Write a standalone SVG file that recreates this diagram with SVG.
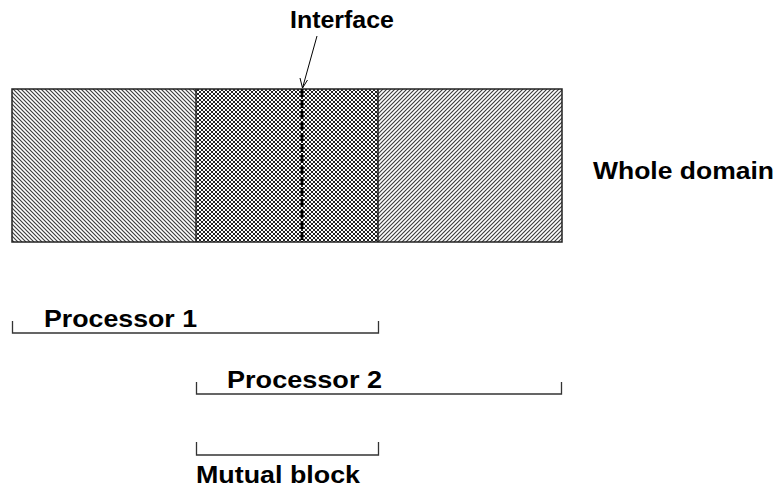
<svg xmlns="http://www.w3.org/2000/svg" width="779" height="491" viewBox="0 0 779 491">
<style>
  .lbl { font-family: "Liberation Sans", Arial, sans-serif; font-weight: bold; font-size: 24.5px; fill: #000; }
  .frame { fill: none; stroke: #222; stroke-width: 1.5; }
  .brk { fill: none; stroke: #333; stroke-width: 1.3; }
</style>
<defs>
  <pattern id="back" patternUnits="userSpaceOnUse" width="4" height="4">
    <rect width="4" height="4" fill="#fff"/>
    <path d="M-1,-1 L5,5 M-1,3 L1,5 M3,-1 L5,1" stroke="#3c3c3c" stroke-width="1.15"/>
  </pattern>
  <pattern id="fwd" patternUnits="userSpaceOnUse" width="4" height="4">
    <rect width="4" height="4" fill="#fff"/>
    <path d="M-1,5 L5,-1 M-1,1 L1,-1 M3,5 L5,3" stroke="#3c3c3c" stroke-width="1.15"/>
  </pattern>
  <pattern id="cross" patternUnits="userSpaceOnUse" width="4" height="4">
    <rect width="4" height="4" fill="#fff"/>
    <path d="M-1,-1 L5,5 M-1,3 L1,5 M3,-1 L5,1 M-1,5 L5,-1 M-1,1 L1,-1 M3,5 L5,3" stroke="#222" stroke-width="1"/>
  </pattern>
</defs>

<g id="domain">
  <rect x="12" y="89" width="184" height="153" fill="url(#back)"/>
  <rect x="196" y="89" width="182" height="153" fill="url(#cross)"/>
  <rect x="378" y="89" width="184" height="153" fill="url(#fwd)"/>
  <rect class="frame" x="12" y="89" width="550" height="153"/>
  <line class="frame" x1="196" y1="89" x2="196" y2="242"/>
  <line class="frame" x1="378" y1="89" x2="378" y2="242"/>
  <text class="lbl" x="593" y="179" textLength="181" lengthAdjust="spacingAndGlyphs">Whole domain</text>
</g>

<g id="interface">
  <line x1="302" y1="89" x2="302" y2="242" stroke="#000" stroke-width="2.8" stroke-dasharray="8,3"/>
  <text class="lbl" x="290" y="28" textLength="104" lengthAdjust="spacingAndGlyphs">Interface</text>
</g>

<g id="processor1">
  <path class="brk" d="M12.5,321 V333 H378.5 V321"/>
  <text class="lbl" x="44" y="327" textLength="153" lengthAdjust="spacingAndGlyphs">Processor 1</text>
</g>

<g id="processor2">
  <path class="brk" d="M196.5,382 V394 H561.5 V382"/>
  <text class="lbl" x="227" y="388" textLength="155" lengthAdjust="spacingAndGlyphs">Processor 2</text>
</g>

<g id="mutual">
  <path class="brk" d="M196.5,442 V455 H378.5 V442"/>
  <text class="lbl" x="196" y="483" textLength="164" lengthAdjust="spacingAndGlyphs">Mutual block</text>
</g>

<g id="connectors">
  <line x1="317" y1="36" x2="302.5" y2="88" stroke="#000" stroke-width="1"/>
  <path d="M300,78 L302.5,88 L307.5,80" fill="none" stroke="#000" stroke-width="1"/>
</g>
</svg>
